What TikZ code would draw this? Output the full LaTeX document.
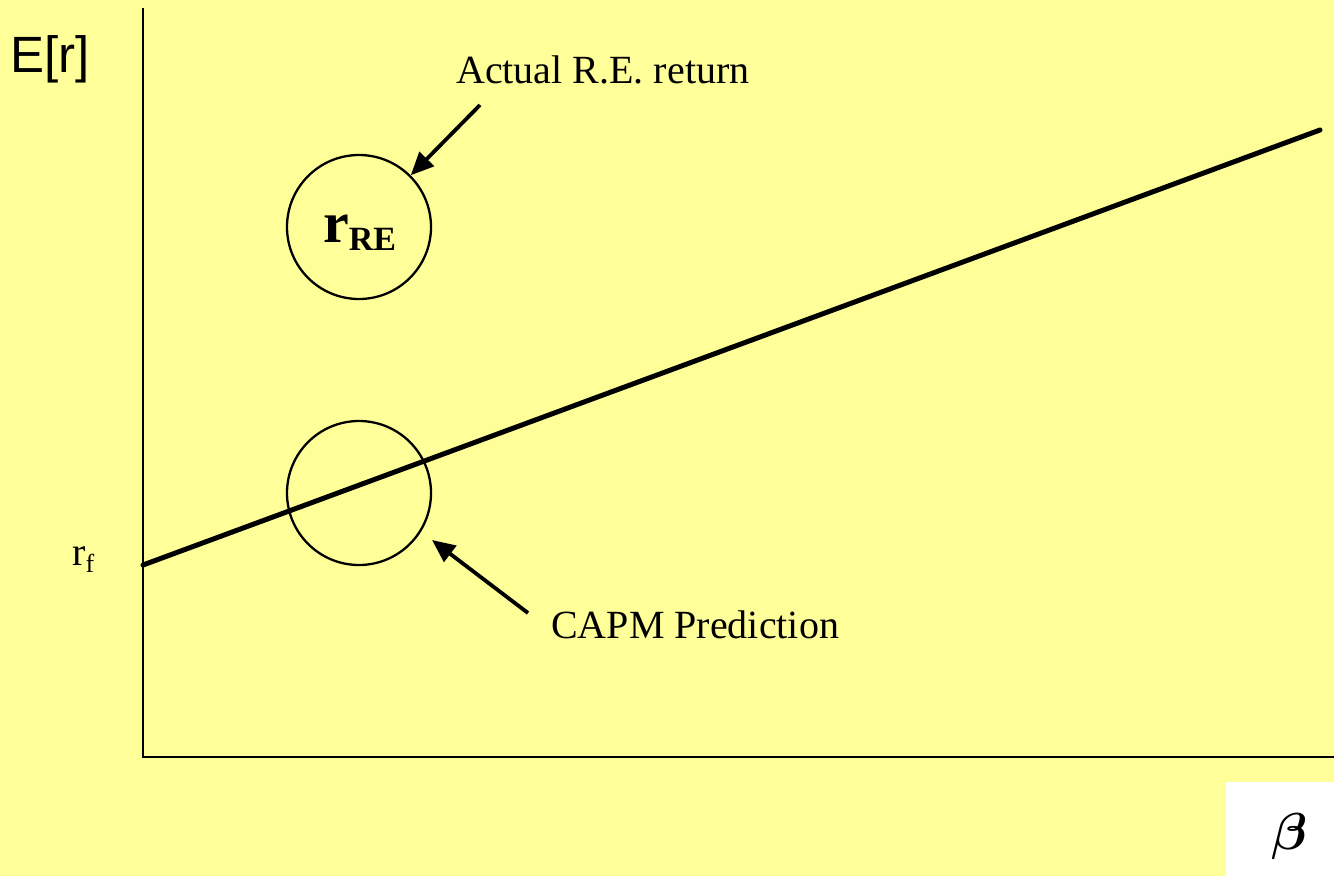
\documentclass[tikz,border=0pt]{standalone}
\usepackage{fontspec}
\setmainfont{Liberation Serif}
\newfontfamily\arialf{Liberation Sans}
\usetikzlibrary{arrows.meta}
\definecolor{bgyellow}{RGB}{255,255,153}
\tikzset{
  axisline/.style={line width=2.6pt, black},
  capmline/.style={line width=5pt, black, line cap=round},
  ringnode/.style={circle, draw, line width=2.3pt, minimum size=144pt, inner sep=0pt},
  pointer/.style={line width=3.8pt, -{Triangle[length=23pt,width=20pt]}},
  lbl/.style={inner sep=0pt, font=\fontsize{40}{48}\selectfont}
}
\begin{document}
\begin{tikzpicture}[x=1pt,y=-1pt]
\useasboundingbox (0,0) rectangle (1334,876);
\fill[bgyellow] (0,0) rectangle (1334,876);
\fill[white] (1226,782) rectangle (1334,876);
% axes
\coordinate (top) at (143,8);
\coordinate (origin) at (143,757);
\coordinate (xend) at (1334,757);
\draw[axisline] (top) -- (origin) -- (xend);
% CAPM line
\coordinate (rfpt) at (143,565);
\coordinate (lineend) at (1320,130);
\draw[capmline] (rfpt) -- (lineend);
% circles
\node[ringnode] (re) at (359,227) {};
\node[ringnode] (capm) at (359,493) {};
\node[inner sep=0pt, anchor=base west] (rrelabel) at (323,242)
  {\bfseries\fontsize{58}{62}\selectfont r\raisebox{-8pt}{\fontsize{34}{38}\selectfont RE}};
% labels
\node[lbl, anchor=base west] (actual) at (456,83) {Actual R.E. return};
\node[lbl, anchor=base west] (capmlbl) at (551,638) {CAPM Prediction};
\node[inner sep=0pt, anchor=base west, font=\arialf\fontsize{51}{56}\selectfont] (er) at (10,72) {E[r]};
\node[inner sep=0pt, anchor=base west, font=\fontsize{40}{48}\selectfont] (rf) at (72,565)
  {r\raisebox{-7pt}{\fontsize{26}{30}\selectfont f}};
\node[inner sep=0pt] (beta) at (1290,836) {\scalebox{5.2}{\boldmath$\beta$}};
% arrows
\coordinate (a1s) at (480,105);
\coordinate (a2s) at (528,613);
\coordinate (a2e) at (432,540);
\draw[pointer] (a1s) -- (re.45);
\draw[pointer] (a2s) -- (a2e);
\end{tikzpicture}
\end{document}
